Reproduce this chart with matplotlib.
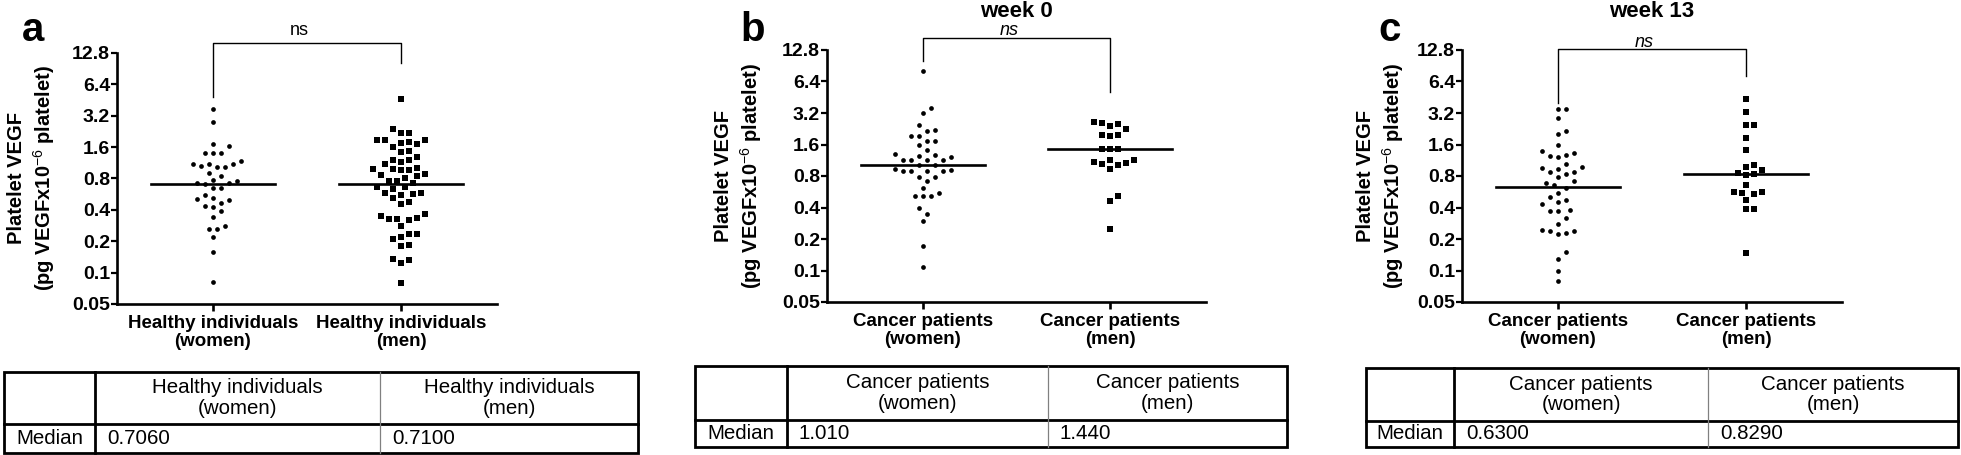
import numpy as np
import matplotlib
matplotlib.use('Agg')
import matplotlib.pyplot as plt
from matplotlib.patches import Rectangle

plt.rcParams['font.family'] = ['Liberation Sans', 'DejaVu Sans']
plt.rcParams['mathtext.fontset'] = 'custom'
plt.rcParams['mathtext.rm'] = 'Liberation Sans'
plt.rcParams['mathtext.bf'] = 'Liberation Sans:bold'

# ---- data ----
a_women = [3.73, 2.76, 1.71, 1.65, 1.42, 1.40, 1.42, 1.17, 1.11, 1.11, 1.04, 1.04, 1.06,
           1.11, 0.91, 0.85, 0.78, 0.73, 0.73, 0.75, 0.71, 0.65, 0.65, 0.56, 0.51, 0.50,
           0.52, 0.47, 0.44, 0.43, 0.39, 0.345, 0.28, 0.26, 0.265, 0.22, 0.158, 0.082]
a_men = [4.63, 2.38, 2.18, 2.21, 1.88, 1.88, 1.81, 1.72, 1.77, 1.88, 1.62, 1.45, 1.48, 1.30,
         1.21, 1.20, 1.16, 1.11, 0.98, 1.02, 0.97, 0.88, 0.84, 0.80, 0.87, 0.96, 0.98, 0.76,
         0.75, 0.72, 0.66, 0.67, 0.64, 0.585, 0.57, 0.56, 0.585, 0.52, 0.457, 0.48, 0.364,
         0.33, 0.335, 0.32, 0.33, 0.35, 0.28, 0.235, 0.209, 0.22, 0.236, 0.182, 0.186,
         0.132, 0.124, 0.134, 0.080]
b_women = [8.1, 3.58, 3.2, 2.44, 2.18, 2.16, 1.93, 1.93, 1.73, 1.73, 1.60, 1.43, 1.31, 1.27,
           1.21, 1.23, 1.14, 1.13, 1.14, 1.13, 1.03, 1.03, 0.93, 0.90, 0.90, 0.91, 0.90, 0.90,
           0.78, 0.78, 0.72, 0.61, 0.55, 0.51, 0.51, 0.51, 0.40, 0.35, 0.30, 0.172, 0.109]
b_men = [2.53, 2.26, 2.41, 2.57, 2.60, 1.96, 1.92, 1.98, 1.46, 1.44, 1.46, 1.085, 1.14, 1.13,
         1.05, 0.94, 1.01, 1.07, 0.51, 0.46, 0.249]
c_women = [3.53, 3.53, 2.87, 2.14, 2.03, 1.60, 1.38, 1.28, 1.32, 1.24, 1.21, 1.05, 0.95, 0.94,
           0.98, 0.88, 0.87, 0.83, 0.78, 0.72, 0.68, 0.65, 0.62, 0.55, 0.50, 0.47, 0.45, 0.43,
           0.373, 0.37, 0.38, 0.32, 0.28, 0.24, 0.23, 0.225, 0.24, 0.245, 0.151, 0.130, 0.10,
           0.079]
c_men = [4.40, 3.28, 2.44, 2.44, 1.86, 1.42, 1.01, 0.97, 0.91, 0.86, 0.81, 0.84, 0.66, 0.55,
         0.54, 0.56, 0.56, 0.47, 0.39, 0.39, 0.148]

medians_a = [0.7060, 0.7100]
medians_b = [1.010, 1.440]
medians_c = [0.6300, 0.8290]
median_text_a = ['0.7060', '0.7100']
median_text_b = ['1.010', '1.440']
median_text_c = ['0.6300', '0.8290']

groups_a = ['Healthy individuals\n(women)', 'Healthy individuals\n(men)']
groups_bc = ['Cancer patients\n(women)', 'Cancer patients\n(men)']

yticks = [0.05, 0.1, 0.2, 0.4, 0.8, 1.6, 3.2, 6.4, 12.8]
ytick_labels = ['0.05', '0.1', '0.2', '0.4', '0.8', '1.6', '3.2', '6.4', '12.8']
ylabel = 'Platelet VEGF\n(pg VEGFx10$^{-6}$ platelet)'

W, H = 1961, 455
fig = plt.figure(figsize=(W / 100, H / 100), dpi=100)


def px_rect(l, t, r, b):
    return [l / W, 1 - b / H, (r - l) / W, (b - t) / H]


def swarm(ax, cat, values, d=8.0):
    # simple beeswarm: spread points sideways in pixel space so they don't overlap
    vals = np.asarray(values, dtype=float)
    ypx = ax.transData.transform(np.column_stack([np.full(len(vals), cat), vals]))[:, 1]
    x0 = ax.transData.transform((cat, 1.0))[0]
    ppu = ax.transData.transform((cat + 1, 1.0))[0] - x0
    offs = np.zeros(len(vals))
    placed = []
    step = d / 2
    for i in np.argsort(ypx):
        k = 0
        while True:
            cands = [0.0] if k == 0 else [k * step, -k * step]
            ok = None
            for c in cands:
                if all((c - px) ** 2 + (ypx[i] - py) ** 2 >= d * d for px, py in placed):
                    ok = c
                    break
            if ok is not None:
                offs[i] = ok
                placed.append((ok, ypx[i]))
                break
            k += 1
    return cat + offs / ppu


panels = [
    dict(data=(a_women, a_men), med=medians_a, medtxt=median_text_a, groups=groups_a,
         rect=(117, 53, 497, 304), letter='a', letter_x=33, ylab_x=32,
         bracket=(4.85, 15.96, 10.3), ns_style='normal', ns_off=5.8, title=None,
         table=(4, 372, 638, 453), cols=(0.1435, 0.593), head=0.642),
    dict(data=(b_women, b_men), med=medians_b, medtxt=median_text_b, groups=groups_bc,
         rect=(827, 50, 1206, 302), letter='b', letter_x=753, ylab_x=739,
         bracket=(10.05, 16.7, 5.08), ns_style='italic', ns_off=2, title='week 0',
         table=(695, 366, 1287, 447), cols=(0.155, 0.596), head=0.667),
    dict(data=(c_women, c_men), med=medians_c, medtxt=median_text_c, groups=groups_bc,
         rect=(1462, 50, 1842, 302), letter='c', letter_x=1390, ylab_x=1381,
         bracket=(3.99, 13.1, 7.23), ns_style='italic', ns_off=1.5, title='week 13',
         table=(1366, 368, 1958, 447), cols=(0.149, 0.578), head=0.67),
]

for p in panels:
    l, t, r, b = p['rect']
    ax = fig.add_axes(px_rect(l, t, r, b))
    ax.set_yscale('log', base=2)
    ax.set_ylim(0.05, 12.8)
    ax.set_xlim(-0.51, 1.51)
    ax.spines['top'].set_visible(False)
    ax.spines['right'].set_visible(False)
    ax.spines['left'].set_linewidth(1.9)
    ax.spines['bottom'].set_linewidth(1.9)
    ax.yaxis.set_minor_locator(matplotlib.ticker.NullLocator())
    ax.set_yticks(yticks)
    ax.set_yticklabels(ytick_labels, fontsize=14, fontweight='bold')
    ax.set_xticks([0, 1])
    ax.set_xticklabels(p['groups'], fontsize=13.5, fontweight='bold')
    for lab in ax.get_xticklabels():
        lab.set_linespacing(1.1)
    ax.tick_params(axis='y', direction='out', length=4, width=1.6, pad=1)
    ax.tick_params(axis='x', direction='out', length=5, width=1.9, pad=3)

    women, men = p['data']
    xs = swarm(ax, 0, women)
    ax.plot(xs, women, 'o', ms=3.4, color='black', mew=0, clip_on=False, zorder=3)
    xs = swarm(ax, 1, men)
    ax.plot(xs, men, 's', ms=3.8, color='black', mew=0, clip_on=False, zorder=3)
    for i, m in enumerate(p['med']):
        ax.plot([i - 0.33, i + 0.33], [m, m], color='black', lw=1.9, zorder=4)

    bl, bt, br = p['bracket']
    ax.plot([0, 0, 1, 1], [bl, bt, bt, br], color='black', lw=1.0, clip_on=False)
    ax.annotate('ns', (0.46, bt), xytext=(0, p['ns_off']), textcoords='offset points',
                ha='center', va='baseline', fontsize=13, style=p['ns_style'],
                annotation_clip=False)
    if p['title']:
        ax.annotate(p['title'], (0.5, 1), xycoords='axes fraction', xytext=(0, 27.5),
                    textcoords='offset points', ha='center', va='center',
                    fontsize=16, fontweight='bold')

    fig.text(p['letter_x'] / W, 1 - 41 / H, p['letter'], fontsize=29, fontweight='bold',
             ha='center', va='baseline')
    fig.text(p['ylab_x'] / W, 1 - ((t + b) / 2) / H, ylabel, rotation=90, ha='center',
             va='center', fontsize=14.5, fontweight='bold', multialignment='center',
             linespacing=1.25)

    # median table under each panel
    tl, tt, tr, tb = p['table']
    axt = fig.add_axes(px_rect(tl, tt, tr, tb))
    axt.set_xlim(0, 1)
    axt.set_ylim(0, 1)
    axt.axis('off')
    c1, c2 = p['cols']
    h = p['head']
    axt.add_patch(Rectangle((0, 0), 1, 1, fill=False, lw=2.0, ec='black', clip_on=False))
    axt.plot([0, 1], [1 - h, 1 - h], color='black', lw=2.0, clip_on=False)
    axt.plot([c1, c1], [0, 1], color='black', lw=2.0, clip_on=False)
    axt.plot([c2, c2], [0, 1], color='#808080', lw=0.9, clip_on=False)
    tfs = 14.8
    axt.text((c1 + c2) / 2, 1 - h / 2, p['groups'][0], ha='center', va='center',
             fontsize=tfs, linespacing=1.1)
    axt.text((c2 + 1) / 2, 1 - h / 2, p['groups'][1], ha='center', va='center',
             fontsize=tfs, linespacing=1.1)
    axt.text(c1 / 2, (1 - h) / 2, 'Median', ha='center', va='center', fontsize=tfs)
    axt.text(c1 + 0.02, (1 - h) / 2, p['medtxt'][0], ha='left', va='center', fontsize=tfs)
    axt.text(c2 + 0.02, (1 - h) / 2, p['medtxt'][1], ha='left', va='center', fontsize=tfs)

fig.savefig('out.png', dpi=100)
